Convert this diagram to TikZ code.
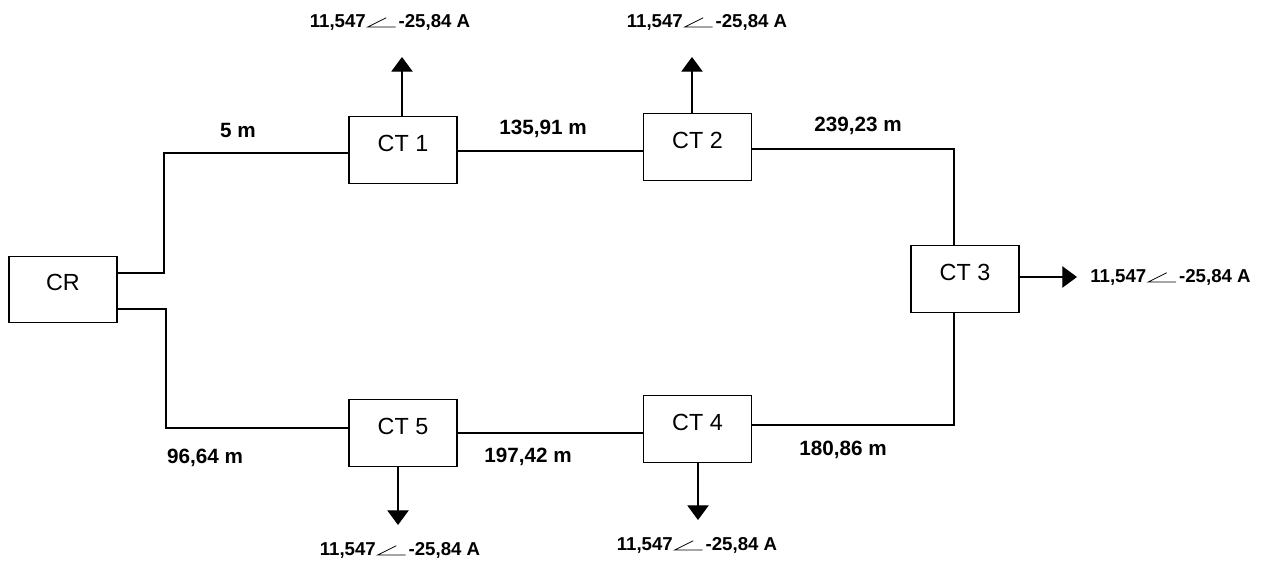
\documentclass[tikz,border=0pt]{standalone}
\usepackage{fontspec}
\setmainfont{Liberation Sans}
\usetikzlibrary{arrows.meta}

\newcommand{\angulo}{\hspace{1pt}\tikz[baseline=0pt,line width=0.6pt]\draw (14pt,7pt) -- (0pt,0pt) -- (21pt,0pt);\hspace{2pt}}
\newcommand{\corriente}{11,547\angulo-25,84~A}

\begin{document}
\begin{tikzpicture}[x=0.75pt,y=-0.75pt,line width=0.9pt,
  caja/.style={draw,minimum width=81pt,minimum height=50pt,inner sep=0pt,
    text depth=10pt,font=\fontsize{17.5}{20}\selectfont},
  dist/.style={inner sep=0pt,font=\fontsize{15.5}{18}\selectfont\bfseries},
  carga/.style={inner sep=0pt,font=\fontsize{14}{16}\selectfont\bfseries},
  salida/.style={-{Triangle[width=16pt,length=11pt]}}]

\useasboundingbox (0,0) rectangle (1279,563);

% Centros
\node[caja] (CR) at (63,289.5) {CR};
\node[caja] (CT1) at (403,150) {CT 1};
\node[caja] (CT2) at (697.5,147) {CT 2};
\node[caja] (CT3) at (965,279) {CT 3};
\node[caja] (CT4) at (697.5,429) {CT 4};
\node[caja] (CT5) at (403,433) {CT 5};

% Anillo
\coordinate (n1) at (164,273);
\coordinate (n2) at (164,153);
\coordinate (n3) at (550,151);
\coordinate (n4) at (954,149);
\coordinate (n5) at (954,425);
\coordinate (n6) at (550,433);
\coordinate (n7) at (166,309);
\coordinate (n8) at (166,428);

\draw (CR.east |- n1) -- (n1) -- (n2) -- (CT1.west |- n2);
\draw (CT1.east |- n3) -- (CT2.west |- n3);
\draw (CT2.east |- n4) -- (n4) -- (CT3.north -| n4);
\draw (CT3.south -| n5) -- (n5) -- (CT4.east |- n5);
\draw (CT4.west |- n6) -- (CT5.east |- n6);
\draw (CR.east |- n7) -- (n7) -- (n8) -- (CT5.west |- n8);

% Distancias
\foreach \x/\y/\d [count=\i] in {
238/130/{5 m},543/129/{135,91 m},858/126/{239,23 m},
205/458/{96,64 m},528/457/{197,42 m},843/450/{180,86 m}
}
{
\node[dist] (d\i) at (\x,\y) {\d};
}

% Cargas
\foreach \ct/\x/\y/\lx/\ly [count=\i] in {
CT1.north/402/57/390/22,CT2.north/692/57/707/22,
CT4.south/698/520/697/545,CT5.south/398/525/400/550
}
{
\coordinate (p\i) at (\x,\y);
\draw[salida] (\ct -| p\i) -- (p\i);
\node[carga] (i\i) at (\lx,\ly) {\corriente};
}

\coordinate (p5) at (1077,277);
\draw[salida] (CT3.east |- p5) -- (p5);
\node[carga,anchor=west] (i5) at (1090,277) {\corriente};

\end{tikzpicture}
\end{document}
